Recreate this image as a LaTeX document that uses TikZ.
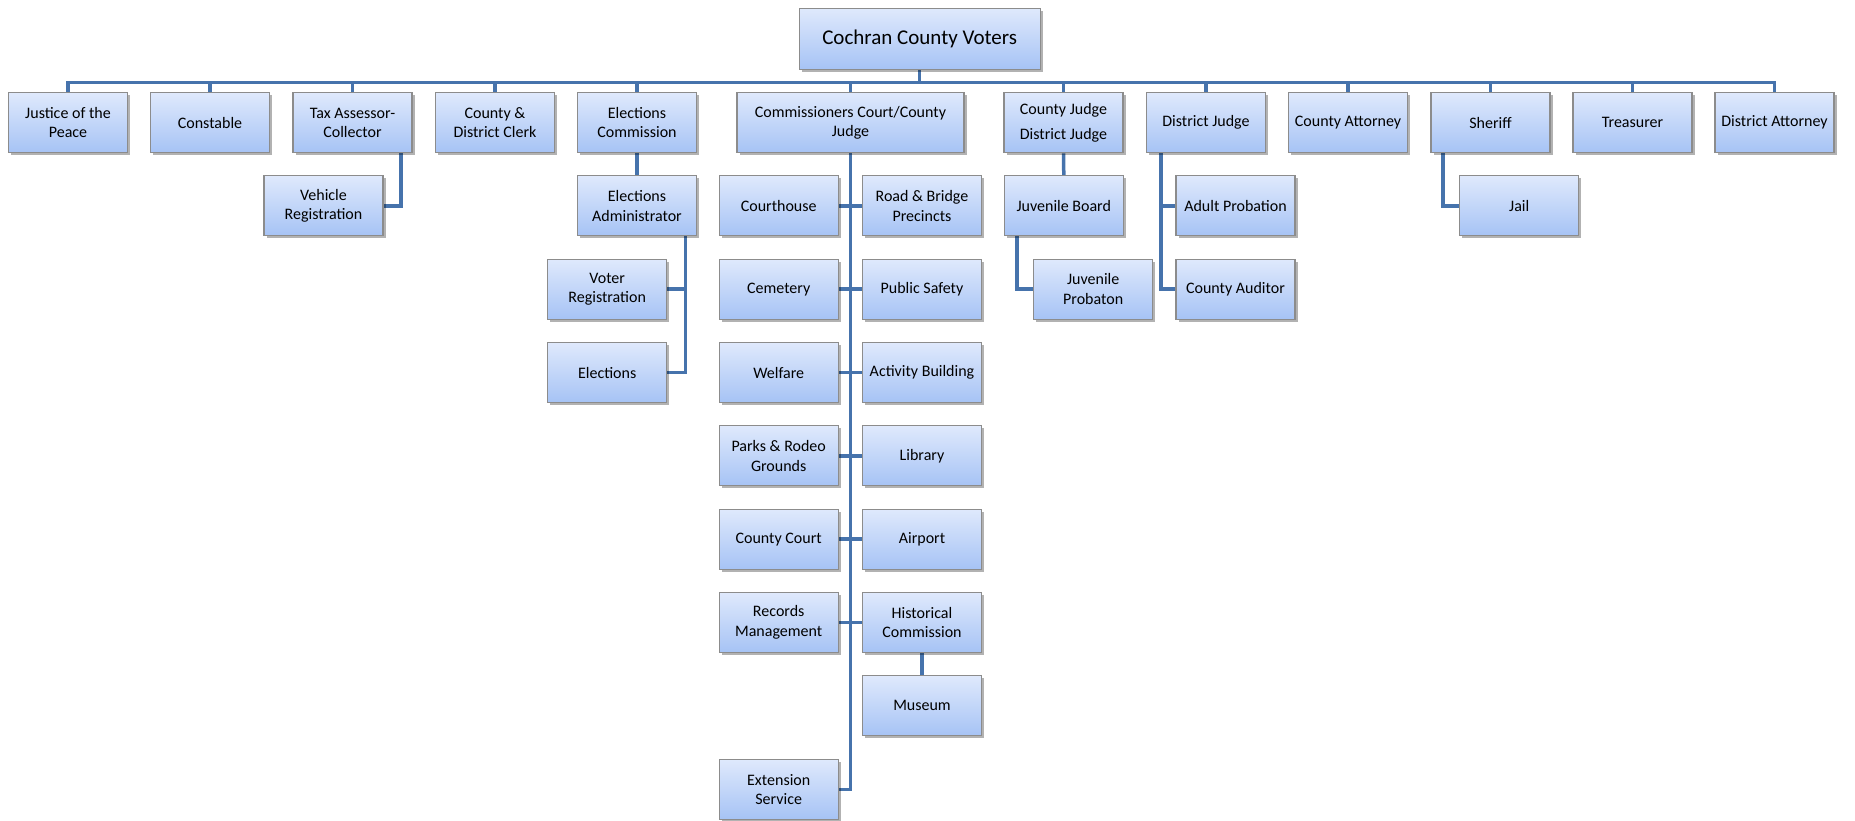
\documentclass[tikz,border=0pt]{standalone}
\usepackage{fontspec}
\setmainfont{Carlito}
\usetikzlibrary{shadows,backgrounds}
\definecolor{lineblue}{HTML}{4673AC}
\definecolor{boxtop}{HTML}{DFE9FC}
\definecolor{boxbot}{HTML}{A6C3F5}
\definecolor{boxborder}{HTML}{8C8C8C}
\begin{document}
\begin{tikzpicture}[x=1pt,y=-1pt,
  box/.style={rectangle, draw=boxborder, line width=1.3pt, top color=boxtop, bottom color=boxbot,
    minimum width=119pt, minimum height=60pt, inner sep=2pt, align=center,
    font=\fontsize{16}{19.5}\selectfont,
    drop shadow={shadow xshift=2.5pt, shadow yshift=-2.5pt, fill=black, opacity=0.3}},
  conn/.style={draw=lineblue, line width=3.5pt}]
\useasboundingbox (0,0) rectangle (1855,820);

% top
\node[box, minimum width=241pt, minimum height=61pt, font=\fontsize{21}{25}\selectfont] (voters) at (919.7,38.8) {Cochran County Voters};
\coordinate (busy) at (0,82.7);

% first row
\node[box] (jp) at (68,122.7) {Justice of the\\Peace};
\node[box] (con) at (210,122.7) {Constable};
\node[box] (tax) at (352.5,122.7) {Tax Assessor-\\Collector};
\node[box] (clerk) at (495,122.7) {County \&\\District Clerk};
\node[box] (ec) at (637,122.7) {Elections\\Commission};
\node[box, minimum width=227pt] (cc) at (850.5,122.7) {Commissioners Court/County\\Judge};
\node[box] (cj) at (1063.5,122.7) {County Judge\\[5.5pt]District Judge};
\node[box] (dj) at (1206,122.7) {District Judge};
\node[box] (catt) at (1348,122.7) {County Attorney};
\node[box] (sh) at (1490.5,122.7) {Sheriff};
\node[box] (tr) at (1632.5,122.7) {Treasurer};
\node[box] (da) at (1774.5,122.7) {District Attorney};

% second level
\node[box] (vr) at (323.5,205.8) {Vehicle\\Registration};
\node[box] (ea) at (637,205.8) {Elections\\Administrator};
\node[box] (vreg) at (607.2,289.2) {Voter\\Registration};
\node[box] (el) at (607.2,372.5) {Elections};

\node[box] (ch) at (778.7,205.8) {Courthouse};
\node[box] (rb) at (922,205.8) {Road \& Bridge\\Precincts};
\node[box] (cem) at (778.7,289.2) {Cemetery};
\node[box] (ps) at (922,289.2) {Public Safety};
\node[box] (wf) at (778.7,372.5) {Welfare};
\node[box] (ab) at (922,372.5) {Activity Building};
\node[box] (pr) at (778.7,455.8) {Parks \& Rodeo\\Grounds};
\node[box] (lib) at (922,455.8) {Library};
\node[box] (cct) at (778.7,539.2) {County Court};
\node[box] (ap) at (922,539.2) {Airport};
\node[box] (rm) at (778.7,622.5) {Records\\Management};
\node[box] (hc) at (922,622.5) {Historical\\Commission};
\node[box] (mus) at (922,705.8) {Museum};
\node[box] (ext) at (778.7,789.3) {Extension\\Service};

\node[box] (jb) at (1063.8,205.8) {Juvenile Board};
\node[box] (jpr) at (1093.2,289.2) {Juvenile\\Probaton};
\node[box] (adp) at (1235.5,205.8) {Adult Probation};
\node[box] (cau) at (1235.5,289.2) {County Auditor};
\node[box] (jail) at (1519.2,205.8) {Jail};

\begin{scope}[on background layer]
\draw[conn] (voters.south) -- (voters.south |- busy);
\draw[conn] (jp.north) -- (jp.north |- busy) -- (da.north |- busy) -- (da.north);
\foreach \n in {con,tax,clerk,ec,cc,cj,dj,catt,sh,tr}
  \draw[conn] (\n.north) -- (\n.north |- busy);
\draw[conn] ([xshift=-11.5pt]tax.south east) |- (vr.east);
\draw[conn] (ec.south) -- (ea.north);
\draw[conn] ([xshift=-11.7pt]ea.south east) |- (el.east);
\draw[conn] ([xshift=-11.7pt]ea.south east) |- (vreg.east);
\draw[conn] (cc.south) |- (ext.east);
\draw[conn] (ch.east) -- (rb.west);
\draw[conn] (cem.east) -- (ps.west);
\draw[conn] (wf.east) -- (ab.west);
\draw[conn] (pr.east) -- (lib.west);
\draw[conn] (cct.east) -- (ap.west);
\draw[conn] (rm.east) -- (hc.west);
\draw[conn] (hc.south) -- (mus.north);
\draw[conn] (cj.south) -- (jb.north);
\draw[conn] ([xshift=13.3pt]jb.south west) |- (jpr.west);
\draw[conn] ([xshift=15pt]dj.south west) |- (adp.west);
\draw[conn] ([xshift=15pt]dj.south west) |- (cau.west);
\draw[conn] ([xshift=12.5pt]sh.south west) |- (jail.west);
\end{scope}
\end{tikzpicture}
\end{document}
